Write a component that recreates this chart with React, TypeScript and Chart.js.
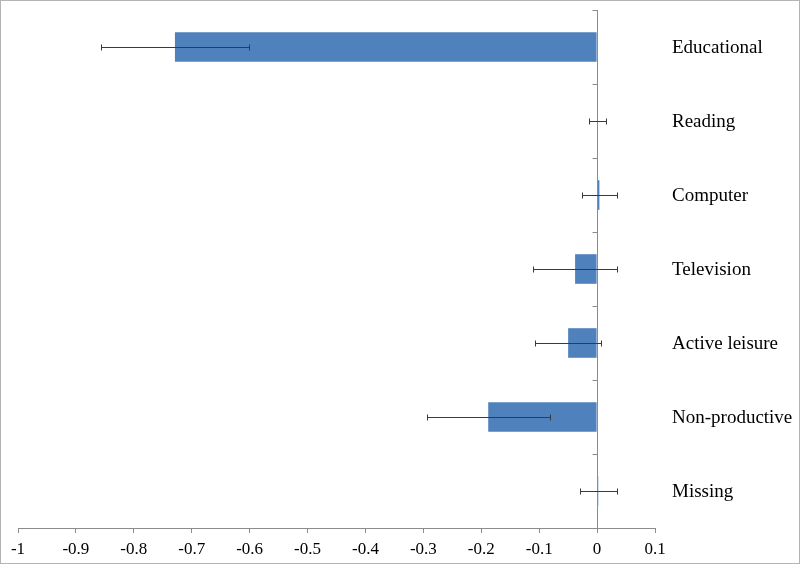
import React, { useEffect, useRef } from "react";
import { Chart, registerables } from "chart.js";

Chart.register(...registerables);

const categories = ["Educational", "Reading", "Computer", "Television", "Active leisure", "Non-productive", "Missing"];
const values = [-0.729, 0.001, 0.004, -0.038, -0.05, -0.188, 0.002];
const errors = [0.128, 0.015, 0.03, 0.073, 0.057, 0.106, 0.032];
const xTicks = [-1, -0.9, -0.8, -0.7, -0.6, -0.5, -0.4, -0.3, -0.2, -0.1, 0, 0.1];

const AXIS_COLOR = "#8c8c8c";
const FONT = "'Liberation Serif', 'Times New Roman', serif";

const customPlugin = {
  id: "custom",
  afterDatasetsDraw(chart: any) {
    const ctx = chart.ctx;
    const xs = chart.scales.x;
    const ys = chart.scales.y;
    const area = chart.chartArea;
    ctx.save();
    // y axis at x = 0
    const x0 = Math.round(xs.getPixelForValue(0)) + 0.5;
    ctx.strokeStyle = AXIS_COLOR;
    ctx.lineWidth = 1;
    ctx.beginPath();
    ctx.moveTo(x0, area.top);
    ctx.lineTo(x0, area.bottom);
    const n = categories.length;
    const band = (area.bottom - area.top) / n;
    for (let i = 0; i <= n; i++) {
      const y = Math.round(ys.getPixelForValue(i) - band / 2) + 0.5;
      ctx.moveTo(x0 - 5, y);
      ctx.lineTo(x0, y);
    }
    ctx.stroke();
    // error bars
    ctx.strokeStyle = "#3a3a3a";
    ctx.beginPath();
    for (let i = 0; i < n; i++) {
      const y = Math.round(ys.getPixelForValue(i)) + 0.5;
      const xa = Math.round(xs.getPixelForValue(values[i] - errors[i])) + 0.5;
      const xb = Math.round(xs.getPixelForValue(values[i] + errors[i])) + 0.5;
      ctx.moveTo(xa, y);
      ctx.lineTo(xb, y);
      ctx.moveTo(xa, y - 3);
      ctx.lineTo(xa, y + 3);
      ctx.moveTo(xb, y - 3);
      ctx.lineTo(xb, y + 3);
    }
    ctx.stroke();
    // category labels
    ctx.fillStyle = "#000";
    ctx.font = "19px " + FONT;
    ctx.textAlign = "left";
    ctx.textBaseline = "middle";
    for (let i = 0; i < n; i++) {
      ctx.fillText(categories[i], area.right + 17, ys.getPixelForValue(i) + 1);
    }
    // frame
    ctx.strokeStyle = "#b4b4b4";
    ctx.strokeRect(0.5, 0.5, chart.width - 1, chart.height - 1);
    ctx.restore();
  },
};

export default function App() {
  const ref = useRef<HTMLCanvasElement>(null);
  useEffect(() => {
    if (!ref.current) return;
    const chart = new Chart(ref.current, {
      type: "bar",
      data: {
        labels: categories,
        datasets: [
          {
            data: values,
            backgroundColor: "#4f81bd",
            borderWidth: 0,
            barPercentage: 0.4,
            categoryPercentage: 1,
          },
        ],
      },
      options: {
        indexAxis: "y",
        responsive: false,
        animation: false,
        layout: { padding: { left: 18, right: 145, top: 10, bottom: 0 } },
        plugins: { legend: { display: false }, tooltip: { enabled: false } },
        scales: {
          x: {
            type: "linear",
            min: -1,
            max: 0.1,
            afterBuildTicks: (scale: any) => {
              scale.ticks = xTicks.map((v) => ({ value: v }));
            },
            afterFit: (scale: any) => {
              scale.height = 36;
            },
            ticks: {
              color: "#000",
              font: { family: FONT, size: 17 },
              padding: 6,
              maxRotation: 0,
              autoSkip: false,
              callback: (v: any) => String(Math.round(Number(v) * 10) / 10),
            },
            grid: {
              display: true,
              drawOnChartArea: false,
              drawTicks: true,
              tickLength: 5,
              color: AXIS_COLOR,
            },
            border: { display: true, color: AXIS_COLOR },
          },
          y: {
            type: "category",
            display: false,
          },
        },
      },
      plugins: [customPlugin],
    });
    return () => chart.destroy();
  }, []);
  return (
    <div style={{ position: "absolute", left: 0, top: 0, width: 800, height: 564, background: "#fff" }}>
      <canvas ref={ref} width={800} height={564} style={{ display: "block" }} />
    </div>
  );
}
